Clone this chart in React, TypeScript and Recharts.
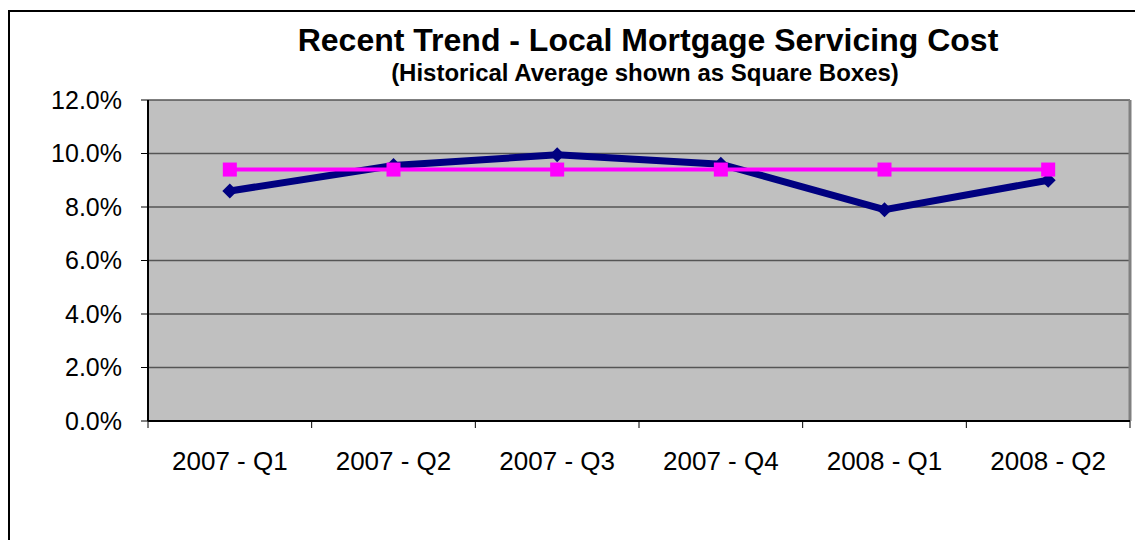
import React from 'react';
import { LineChart, Line, XAxis, YAxis, CartesianGrid, ReferenceLine } from 'recharts';

const quarters = ['2007 - Q1', '2007 - Q2', '2007 - Q3', '2007 - Q4', '2008 - Q1', '2008 - Q2'];
const localCost = [8.6, 9.55, 9.95, 9.6, 7.9, 9.0];
const historicalAvg = [9.4, 9.4, 9.4, 9.4, 9.4, 9.4];
const yTicks = [0, 2, 4, 6, 8, 10, 12];

const FONT = '"Liberation Sans", Arial, sans-serif';
const TICK_SIZE = 7;
const TICK_MARGIN = 24;

const chartData = quarters.map((q, i) => ({
  quarter: q,
  local: localCost[i],
  avg: historicalAvg[i],
}));

// category label plus Excel-style tick marks on the band edges
const QuarterTick = (props: any) => {
  const { x, y, payload, index } = props;
  const half = payload && payload.offset ? payload.offset : 982 / quarters.length / 2;
  const axisY = y - TICK_SIZE - TICK_MARGIN;
  const isLast = index === quarters.length - 1;
  return (
    <g>
      <line x1={x - half} y1={axisY} x2={x - half} y2={axisY + TICK_SIZE} stroke="#000" />
      {isLast && (
        <line x1={x + half} y1={axisY} x2={x + half} y2={axisY + TICK_SIZE} stroke="#000" />
      )}
      <text x={x} y={y} dy="0.71em" textAnchor="middle" fill="#000" fontSize={26} fontFamily={FONT}>
        {payload.value}
      </text>
    </g>
  );
};

const Diamond = (props: any) => {
  const { cx, cy } = props;
  if (cx == null || cy == null) return null;
  const r = 7.5;
  return (
    <polygon
      points={`${cx},${cy - r} ${cx + r},${cy} ${cx},${cy + r} ${cx - r},${cy}`}
      fill="#000080"
    />
  );
};

const Square = (props: any) => {
  const { cx, cy } = props;
  if (cx == null || cy == null) return null;
  const s = 14;
  return <rect x={cx - s / 2} y={cy - s / 2} width={s} height={s} fill="#FF00FF" />;
};

export default function App() {
  return (
    <div style={{ position: 'absolute', left: 0, top: 0, width: 1135, height: 540, overflow: 'hidden', background: '#fff' }}>
      <div
        style={{
          position: 'absolute',
          left: 8,
          top: 10,
          width: 1300,
          height: 700,
          border: '2px solid #000',
        }}
      />
      <div style={{ position: 'absolute', left: 0, top: 0 }}>
        <LineChart
          width={1135}
          height={540}
          data={chartData}
          margin={{ top: 100, right: 5, bottom: 59, left: 48 }}
        >
          <CartesianGrid fill="#C0C0C0" vertical={false} stroke="#555555" strokeWidth={1.5} />
          <XAxis
            dataKey="quarter"
            scale="band"
            tickLine={false}
            axisLine={{ stroke: '#000', strokeWidth: 2 }}
            tick={<QuarterTick />}
            tickSize={TICK_SIZE}
            tickMargin={TICK_MARGIN}
            height={60}
            interval={0}
          />
          <YAxis
            domain={[0, 12]}
            ticks={yTicks}
            width={100}
            tickFormatter={(v: number) => `${v.toFixed(1)}%`}
            tick={{ fill: '#000', fontSize: 25, fontFamily: FONT }}
            axisLine={{ stroke: '#000', strokeWidth: 2 }}
            tickLine={{ stroke: '#000' }}
            tickSize={7}
            tickMargin={19}
            interval={0}
          />
          <ReferenceLine
            x={quarters[quarters.length - 1]}
            position="end"
            stroke="#808080"
            strokeWidth={3}
          />
          <Line
            dataKey="local"
            stroke="#000080"
            strokeWidth={7}
            dot={<Diamond />}
            activeDot={false}
            isAnimationActive={false}
          />
          <Line
            dataKey="avg"
            stroke="#FF00FF"
            strokeWidth={4}
            dot={<Square />}
            activeDot={false}
            isAnimationActive={false}
          />
        </LineChart>
      </div>
      <svg
        width={1135}
        height={540}
        style={{ position: 'absolute', left: 0, top: 0, pointerEvents: 'none' }}
      >
        <text x={648} y={51} textAnchor="middle" fontFamily={FONT} fontWeight="bold" fontSize={32} fill="#000">
          Recent Trend - Local Mortgage Servicing Cost
        </text>
        <text x={645} y={81} textAnchor="middle" fontFamily={FONT} fontWeight="bold" fontSize={24} fill="#000">
          (Historical Average shown as Square Boxes)
        </text>
      </svg>
    </div>
  );
}
